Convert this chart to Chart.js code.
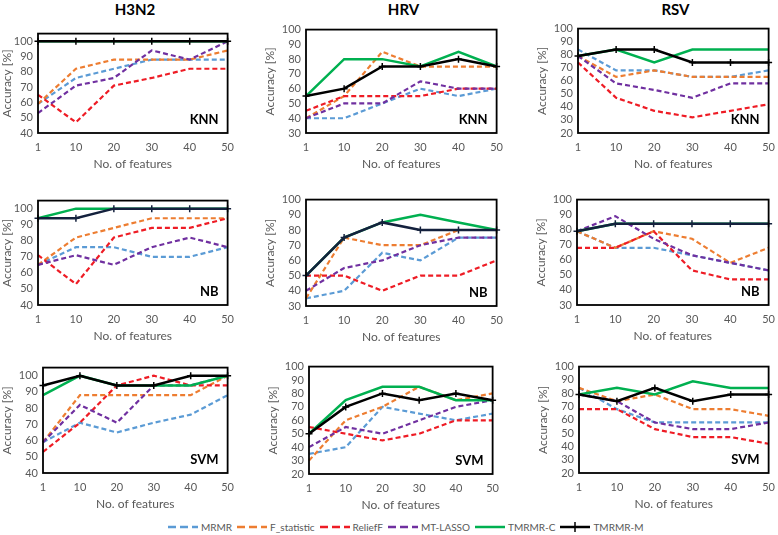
<!DOCTYPE html>
<html>
<head>
<meta charset="utf-8">
<script src="https://cdn.jsdelivr.net/npm/chart.js@4"></script>
<style>
  body { margin: 0; background: #fff; width: 778px; height: 535px; position: relative; overflow: hidden; font-family: Lato, sans-serif; }
  canvas { position: absolute; }
  .head { position: absolute; top: 0; width: 120px; text-align: center; font-weight: bold; font-size: 15px; line-height: 18px; color: #000; }
  #legend { position: absolute; top: 521px; left: 168px; display: flex; align-items: center; font-size: 10px; color: #595959; white-space: nowrap; }
  #legend span.item { display: flex; align-items: center; margin-right: 5px; }
  #legend svg { margin-right: 3px; }
</style>
</head>
<body>
<div id="legend"></div>
<script>
const features = ['1', '10', '20', '30', '40', '50'];
const methods = ['MRMR', 'F_statistic', 'ReliefF', 'MT-LASSO', 'TMRMR-C', 'TMRMR-M'];
const viruses = ['H3N2', 'HRV', 'RSV'];
const classifiers = ['KNN', 'NB', 'SVM'];

// accuracy per method (rows in the order of `methods`)
const h3n2Knn = [[59, 76, 82, 88, 88, 88], [59, 82, 88, 88, 88, 94], [65, 47, 71, 76, 82, 82], [53, 71, 76, 94, 88, 100], [100, 100, 100, 100, 100, 100], [100, 100, 100, 100, 100, 100]];
const hrvKnn  = [[40, 40, 50, 60, 55, 60], [40, 55, 85, 75, 75, 75], [45, 55, 55, 55, 60, 60], [40, 50, 50, 65, 60, 60], [55, 80, 80, 75, 85, 75], [55, 60, 75, 75, 80, 75]];
const rsvKnn  = [[84, 68, 68, 63, 63, 68], [79, 63, 68, 63, 63, 63], [74, 47, 37, 32, 37, 42], [79, 58, 53, 47, 58, 58], [79, 84, 74, 84, 84, 84], [79, 84, 84, 74, 74, 74]];
const h3n2Nb  = [[65, 76, 76, 70, 70, 76], [65, 82, 88, 94, 94, 94], [71, 53, 82, 88, 88, 94], [65, 71, 65, 76, 82, 76], [94, 100, 100, 100, 100, 100], [94, 94, 100, 100, 100, 100]];
const hrvNb   = [[35, 40, 65, 60, 75, 75], [35, 75, 70, 70, 80, 80], [50, 50, 40, 50, 50, 60], [40, 55, 60, 70, 75, 75], [50, 75, 85, 90, 85, 80], [50, 75, 85, 80, 80, 80]];
const rsvNb   = [[79, 68, 68, 63, 58, 53], [79, 68, 79, 74, 58, 68], [68, 68, 79, 53, 47, 47], [79, 89, 74, 63, 58, 53], [79, 84, 84, 84, 84, 84], [79, 84, 84, 84, 84, 84]];
const h3n2Svm = [[59, 71, 65, 71, 76, 88], [59, 88, 88, 88, 88, 100], [53, 71, 94, 100, 94, 94], [59, 82, 71, 94, 94, 100], [88, 100, 94, 94, 94, 100], [94, 100, 94, 94, 100, 100]];
const hrvSvm  = [[35, 40, 70, 65, 60, 65], [30, 60, 70, 85, 75, 80], [55, 50, 45, 50, 60, 60], [40, 55, 50, 60, 70, 75], [50, 75, 85, 85, 75, 75], [50, 70, 80, 75, 80, 75]];
const rsvSvm  = [[84, 68, 58, 58, 58, 58], [84, 74, 79, 68, 68, 63], [68, 68, 53, 47, 47, 42], [79, 74, 58, 53, 53, 58], [79, 84, 79, 89, 84, 84], [79, 74, 84, 74, 79, 79]];

const yMin = [[40, 30, 20], [40, 30, 30], [40, 20, 20]];
const yMax = [[105, 100, 100], [105, 100, 100], [105, 100, 100]];
const yTop = 100; // highest labelled tick

const panels = [[h3n2Knn, hrvKnn, rsvKnn], [h3n2Nb, hrvNb, rsvNb], [h3n2Svm, hrvSvm, rsvSvm]];

// plot box of each panel: left, top, right, bottom
const boxes = [
  [[38, 30, 232, 133], [306, 26, 501, 133], [578, 25, 773, 133]],
  [[38, 197, 232, 305], [306, 196, 501, 306], [577, 196, 773, 305]],
  [[43, 364, 232, 473], [309, 363, 497, 474], [579, 363, 773, 473]]
];

const colors = ['#5B9BD5', '#ED7D31', '#EE1C25', '#7030A0', '#00B050', '#000000'];
const dashed = [true, true, true, true, false, false];
const font = 'Lato';
const grey = '#595959';

const frame = {
  id: 'frame',
  afterDatasetsDraw(chart, args, opts) {
    const a = chart.chartArea, ctx = chart.ctx;
    ctx.save();
    ctx.strokeStyle = '#000';
    ctx.lineWidth = 1.8;
    ctx.strokeRect(a.left, a.top, a.right - a.left, a.bottom - a.top);
    ctx.font = 'bold 13px ' + font;
    ctx.fillStyle = '#000';
    ctx.textAlign = 'right';
    ctx.textBaseline = 'middle';
    ctx.fillText(opts.label, a.right - 9, a.bottom - 13);
    ctx.restore();
  }
};

viruses.forEach((v, c) => {
  const b = boxes[0][c];
  const h = document.createElement('div');
  h.className = 'head';
  h.textContent = v;
  h.style.left = ((b[0] + b[2]) / 2 - 60) + 'px';
  document.body.appendChild(h);
});

classifiers.forEach((cls, r) => {
  viruses.forEach((v, c) => {
    const [l, t, rt, bt] = boxes[r][c];
    const canvasLeft = c === 0 ? 0 : l - 43;
    const yw = l - canvasLeft;
    const padTop = 8, padRight = 10, xh = 38;
    const cv = document.createElement('canvas');
    cv.width = yw + (rt - l) + padRight;
    cv.height = padTop + (bt - t) + xh;
    cv.style.left = canvasLeft + 'px';
    cv.style.top = (t - padTop) + 'px';
    document.body.appendChild(cv);

    const lineColors = colors.map((col, i) => (i === 5 && r === 1) ? '#14213D' : col);
    const datasets = methods.map((m, i) => ({
      label: m,
      data: panels[r][c][i],
      borderColor: lineColors[i],
      backgroundColor: lineColors[i],
      borderWidth: dashed[i] ? 2.2 : 2.5,
      borderDash: dashed[i] ? [5, 3] : [],
      pointRadius: i === 5 ? 3.5 : 0,
      pointStyle: 'cross',
      pointBorderWidth: 1.5,
      tension: 0,
      order: 5 - i
    }));

    new Chart(cv, {
      type: 'line',
      data: { labels: features, datasets },
      options: {
        responsive: false,
        animation: false,
        layout: { padding: { top: padTop, right: padRight, left: 0, bottom: 0 } },
        plugins: { legend: { display: false }, tooltip: { enabled: false }, frame: { label: cls } },
        scales: {
          x: {
            grid: { display: false, drawTicks: false },
            border: { display: false },
            ticks: { color: grey, font: { family: font, size: 11 }, padding: 8, maxRotation: 0, autoSkip: false },
            title: { display: true, text: 'No. of features', color: grey, font: { family: font, size: 12 }, padding: 0 },
            afterFit(s) { s.height = xh; }
          },
          y: {
            min: yMin[r][c],
            max: yMax[r][c],
            grid: { display: false, drawTicks: false },
            border: { display: false },
            ticks: { autoSkip: false, color: grey, font: { family: font, size: 11 }, padding: 5 },
            afterBuildTicks(s) {
              const ticks = [];
              for (let val = yMin[r][c]; val <= yTop; val += 10) ticks.push({ value: val });
              s.ticks = ticks;
            },
            title: { display: true, text: 'Accuracy [%]', color: grey, font: { family: font, size: 12 }, padding: 0 },
            afterFit(s) { s.width = yw; }
          }
        }
      },
      plugins: [frame]
    });
  });
});

// legend
const legend = document.getElementById('legend');
methods.forEach((m, i) => {
  const item = document.createElement('span');
  item.className = 'item';
  const dash = dashed[i] ? ' stroke-dasharray="8 4"' : '';
  const cross = i === 5 ? '<line x1="15" y1="0" x2="15" y2="10" stroke="#000" stroke-width="1.5"/>' : '';
  item.innerHTML = '<svg width="30" height="10"><line x1="0" y1="5" x2="30" y2="5" stroke="' + colors[i] + '" stroke-width="2.5"' + dash + '/>' + cross + '</svg>' + m;
  legend.appendChild(item);
});
</script>
</body>
</html>
